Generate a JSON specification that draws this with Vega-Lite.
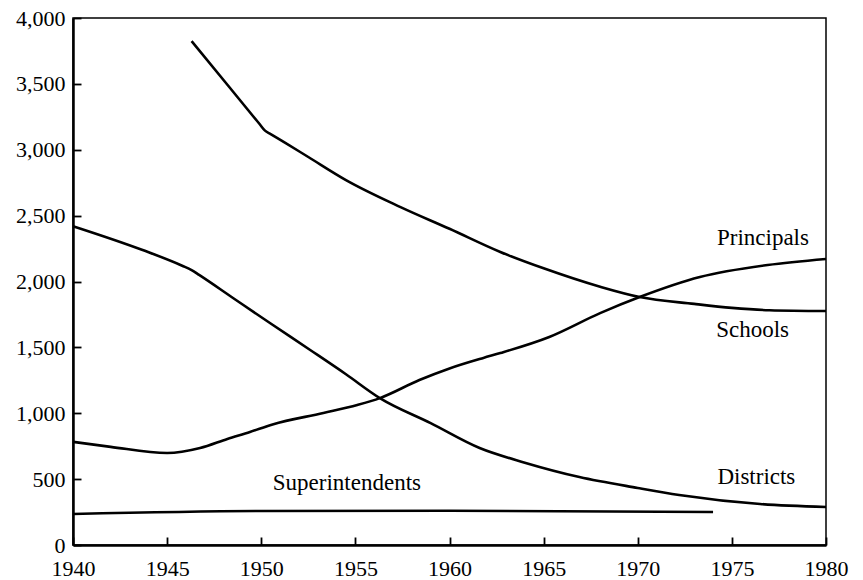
{
  "$schema": "https://vega.github.io/schema/vega-lite/v6.json",
  "width": 753,
  "height": 527,
  "autosize": {"type": "none"},
  "padding": {"left": 73, "top": 18, "right": 37, "bottom": 35},
  "background": "white",
  "config": {
    "view": {"stroke": "black", "strokeWidth": 1.5},
    "font": "Liberation Serif",
    "axis": {
      "domainColor": "black",
      "domainWidth": 2.5,
      "tickColor": "black",
      "tickWidth": 1.8,
      "tickSize": -8,
      "labelColor": "black",
      "labelFont": "Liberation Serif",
      "labelFontSize": 22,
      "grid": false,
      "title": null
    }
  },
  "datasets": {
    "lines": [
      {"series": "Schools", "year": 1946.3, "value": 3825},
      {"series": "Schools", "year": 1948.3, "value": 3476},
      {"series": "Schools", "year": 1949.9, "value": 3197},
      {"series": "Schools", "year": 1950.2, "value": 3145},
      {"series": "Schools", "year": 1950.5, "value": 3119},
      {"series": "Schools", "year": 1951.3, "value": 3050},
      {"series": "Schools", "year": 1952.5, "value": 2945},
      {"series": "Schools", "year": 1954.5, "value": 2770},
      {"series": "Schools", "year": 1957.4, "value": 2565},
      {"series": "Schools", "year": 1960, "value": 2400},
      {"series": "Schools", "year": 1962.7, "value": 2224},
      {"series": "Schools", "year": 1965, "value": 2100},
      {"series": "Schools", "year": 1968, "value": 1960},
      {"series": "Schools", "year": 1970.1, "value": 1882},
      {"series": "Schools", "year": 1973, "value": 1830},
      {"series": "Schools", "year": 1975, "value": 1800},
      {"series": "Schools", "year": 1977, "value": 1782},
      {"series": "Schools", "year": 1980, "value": 1776},
      {"series": "Principals", "year": 1940, "value": 783},
      {"series": "Principals", "year": 1942, "value": 745},
      {"series": "Principals", "year": 1945, "value": 698},
      {"series": "Principals", "year": 1946.75, "value": 736},
      {"series": "Principals", "year": 1948.2, "value": 805},
      {"series": "Principals", "year": 1949.4, "value": 858},
      {"series": "Principals", "year": 1950.6, "value": 915},
      {"series": "Principals", "year": 1953.3, "value": 1002},
      {"series": "Principals", "year": 1955.1, "value": 1063},
      {"series": "Principals", "year": 1956.3, "value": 1115},
      {"series": "Principals", "year": 1958.4, "value": 1252},
      {"series": "Principals", "year": 1960, "value": 1340},
      {"series": "Principals", "year": 1961.8, "value": 1420},
      {"series": "Principals", "year": 1962.7, "value": 1457},
      {"series": "Principals", "year": 1965.3, "value": 1579},
      {"series": "Principals", "year": 1968, "value": 1760},
      {"series": "Principals", "year": 1970.1, "value": 1882},
      {"series": "Principals", "year": 1973.3, "value": 2034},
      {"series": "Principals", "year": 1976.9, "value": 2125},
      {"series": "Principals", "year": 1980, "value": 2171},
      {"series": "Districts", "year": 1940, "value": 2420},
      {"series": "Districts", "year": 1943.7, "value": 2239},
      {"series": "Districts", "year": 1945.8, "value": 2120},
      {"series": "Districts", "year": 1946.3, "value": 2087},
      {"series": "Districts", "year": 1946.7, "value": 2050},
      {"series": "Districts", "year": 1948.5, "value": 1875},
      {"series": "Districts", "year": 1950.5, "value": 1681},
      {"series": "Districts", "year": 1952.6, "value": 1480},
      {"series": "Districts", "year": 1954.5, "value": 1296},
      {"series": "Districts", "year": 1956.3, "value": 1115},
      {"series": "Districts", "year": 1959, "value": 925},
      {"series": "Districts", "year": 1961.6, "value": 736},
      {"series": "Districts", "year": 1964, "value": 625},
      {"series": "Districts", "year": 1966.9, "value": 516},
      {"series": "Districts", "year": 1970, "value": 433},
      {"series": "Districts", "year": 1972.2, "value": 380},
      {"series": "Districts", "year": 1976.5, "value": 311},
      {"series": "Districts", "year": 1980, "value": 288},
      {"series": "Superintendents", "year": 1940, "value": 235},
      {"series": "Superintendents", "year": 1950, "value": 258},
      {"series": "Superintendents", "year": 1960, "value": 260},
      {"series": "Superintendents", "year": 1974, "value": 250}
    ],
    "labels": [
      {"label": "Principals", "year": 1976.65, "value": 2330},
      {"label": "Schools", "year": 1976.1, "value": 1632},
      {"label": "Districts", "year": 1976.3, "value": 516},
      {"label": "Superintendents", "year": 1954.55, "value": 470}
    ]
  },
  "layer": [
    {
      "data": {"name": "lines"},
      "mark": {"type": "line", "color": "black", "strokeWidth": 2.6, "interpolate": "monotone"},
      "encoding": {
        "x": {
          "field": "year", "type": "quantitative",
          "scale": {"domain": [1940, 1980], "nice": false, "zero": false},
          "axis": {"values": [1940, 1945, 1950, 1955, 1960, 1965, 1970, 1975, 1980], "format": "d", "labelPadding": 21, "labelFlush": false}
        },
        "y": {
          "field": "value", "type": "quantitative",
          "scale": {"domain": [0, 4000], "nice": false},
          "axis": {"values": [0, 500, 1000, 1500, 2000, 2500, 3000, 3500, 4000], "format": ",d", "labelPadding": 16}
        },
        "detail": {"field": "series"}
      }
    },
    {
      "data": {"name": "labels"},
      "mark": {"type": "text", "font": "Liberation Serif", "fontSize": 23, "color": "black", "align": "center", "baseline": "middle"},
      "encoding": {
        "x": {"field": "year", "type": "quantitative"},
        "y": {"field": "value", "type": "quantitative"},
        "text": {"field": "label"}
      }
    }
  ]
}
